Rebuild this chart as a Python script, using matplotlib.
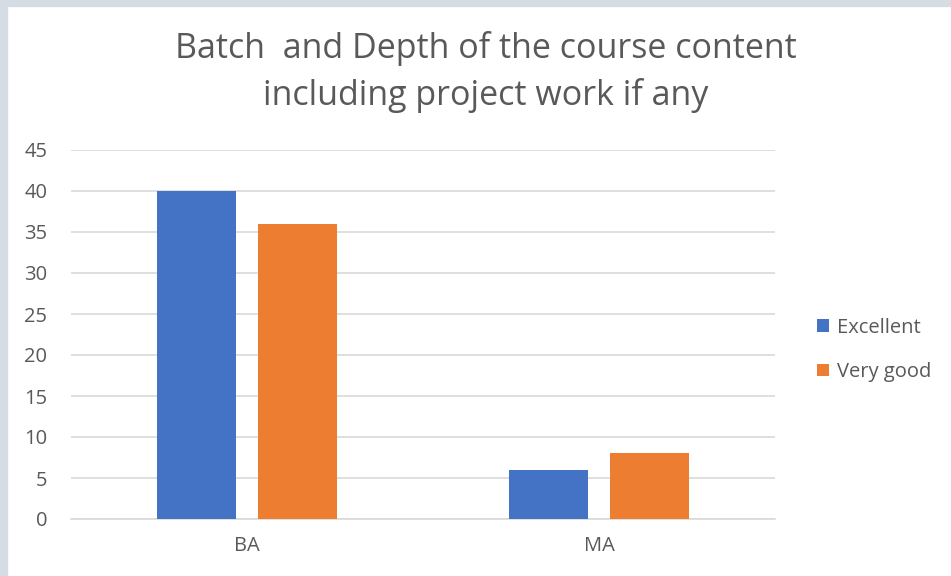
import matplotlib.pyplot as plt
import matplotlib.patches as patches
import numpy as np

# Datos
categorias = ['BA', 'MA']
series = ['Excellent', 'Very good']
excellent = [40, 6]
very_good = [36, 8]
colores = ['#4472C4', '#ED7D31']
yticks = list(range(0, 50, 5))

texto = '#595959'
plt.rcParams['font.family'] = ['Open Sans', 'DejaVu Sans']

fig = plt.figure(figsize=(9.51, 5.76), dpi=100)
fig.patch.set_facecolor('white')

# Marco gris (arriba e izquierda)
fig.patches.append(patches.Rectangle((0, 1 - 6/576), 1, 6/576, transform=fig.transFigure,
                                     color='#D6DCE4', zorder=0))
fig.patches.append(patches.Rectangle((0, 0), 7/951, 1, transform=fig.transFigure,
                                     color='#D6DCE4', zorder=0))

ax = fig.add_axes([71/951, 57/576, 704/951, 369/576])

x = np.arange(len(categorias))
ancho = 0.225
desp = 0.143
ax.bar(x - desp, excellent, ancho, color=colores[0], label=series[0], zorder=3)
ax.bar(x + desp, very_good, ancho, color=colores[1], label=series[1], zorder=3)

ax.set_xlim(-0.5, 1.5)
ax.set_ylim(0, 45)
ax.set_yticks(yticks)
ax.set_xticks(x)
ax.set_xticklabels(categorias)
ax.tick_params(axis='both', length=0, labelsize=14.5, colors=texto)
ax.tick_params(axis='y', pad=17)
ax.tick_params(axis='x', pad=12)

ax.grid(True, axis='y', color='#D9D9D9', linewidth=1.2)
ax.set_axisbelow(True)
for s in ['top', 'right', 'left']:
    ax.spines[s].set_visible(False)
ax.spines['bottom'].set_color('#D9D9D9')
ax.spines['bottom'].set_linewidth(1.2)

fig.text(486/951, 1 - 72/576, 'Batch  and Depth of the course content\nincluding project work if any',
         ha='center', va='center', fontsize=24.5, color=texto, linespacing=1.42)

leg = fig.legend(loc='center left', bbox_to_anchor=(799/951, 1 - 350/576), frameon=False,
                 fontsize=14.5, handlelength=0.6, handleheight=0.6, handletextpad=0.4,
                 labelspacing=1.2)
for t in leg.get_texts():
    t.set_color(texto)

fig.savefig('out.png', dpi=100)
